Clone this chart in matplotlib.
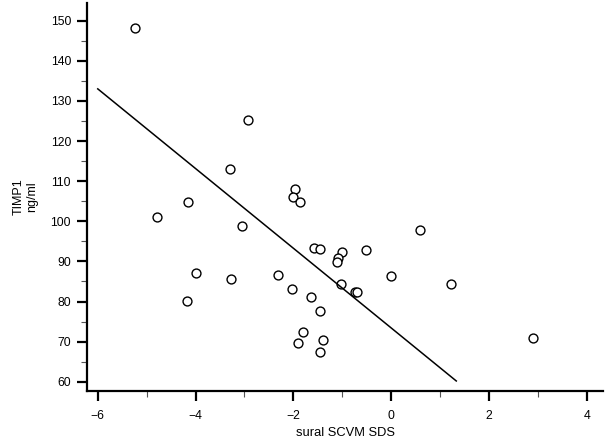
import matplotlib
matplotlib.use("Agg")
import matplotlib.pyplot as plt
from matplotlib.ticker import MultipleLocator

plt.rcParams['font.family'] = ['Liberation Sans', 'DejaVu Sans']

sural_scvm_sds = [-5.23, -2.93, -3.30, -4.78, -4.15, -4.00, -4.18, -1.96, -2.01, -1.87,
                  -3.06, -1.58, -1.45, -1.01, -1.08, -1.10, -0.51, 0.59, -3.28, -2.31,
                  -0.01, 1.23, -2.03, -1.02, -0.75, -0.70, -1.65, -1.45, -1.80, -1.90,
                  -1.39, -1.45, 2.90]
timp1 = [148.2, 125.2, 113.0, 101.0, 104.9, 87.0, 80.2, 108.0, 106.0, 104.9,
         98.7, 93.3, 93.0, 92.3, 90.8, 89.9, 92.8, 97.8, 85.7, 86.7,
         86.3, 84.3, 83.1, 84.4, 82.3, 82.3, 81.1, 77.7, 72.3, 69.6,
         70.5, 67.5, 70.9]
fit_x = [-6.0, 1.33]
fit_y = [133.0, 60.2]

x_ticks = [-6, -4, -2, 0, 2, 4]
y_ticks = [60, 70, 80, 90, 100, 110, 120, 130, 140, 150]

fig = plt.figure(figsize=(6.08, 4.48), dpi=100)
ax = fig.add_axes([87/608, 1-391/448, (603-87)/608, (391-3)/448])

ax.plot(sural_scvm_sds, timp1, 'o', ms=6.4, mfc='white', mec='black', mew=1.0, linestyle='none')
ax.plot(fit_x, fit_y, color='black', lw=1.1)

ax.set_xlim(-6.22, 4.33)
ax.set_ylim(57.7, 154.4)
ax.set_xticks(x_ticks)
ax.set_yticks(y_ticks)
ax.xaxis.set_minor_locator(MultipleLocator(1))
ax.yaxis.set_minor_locator(MultipleLocator(5))

for s in ['top', 'right']:
    ax.spines[s].set_visible(False)
for s in ['left', 'bottom']:
    ax.spines[s].set_linewidth(1.6)

ax.tick_params(which='major', direction='out', length=7.5, width=1.6, labelsize=8.8)
ax.tick_params(axis='y', which='major', pad=4)
ax.tick_params(axis='x', which='major', pad=6.5)
ax.tick_params(which='minor', direction='out', length=4.5, width=0.8, color='#555555')

ax.set_xlabel('sural SCVM SDS', fontsize=9.3, labelpad=3)
ax.set_ylabel('TIMP1\nng/ml', fontsize=9.0, labelpad=9)

fig.savefig('out.png', dpi=100)
